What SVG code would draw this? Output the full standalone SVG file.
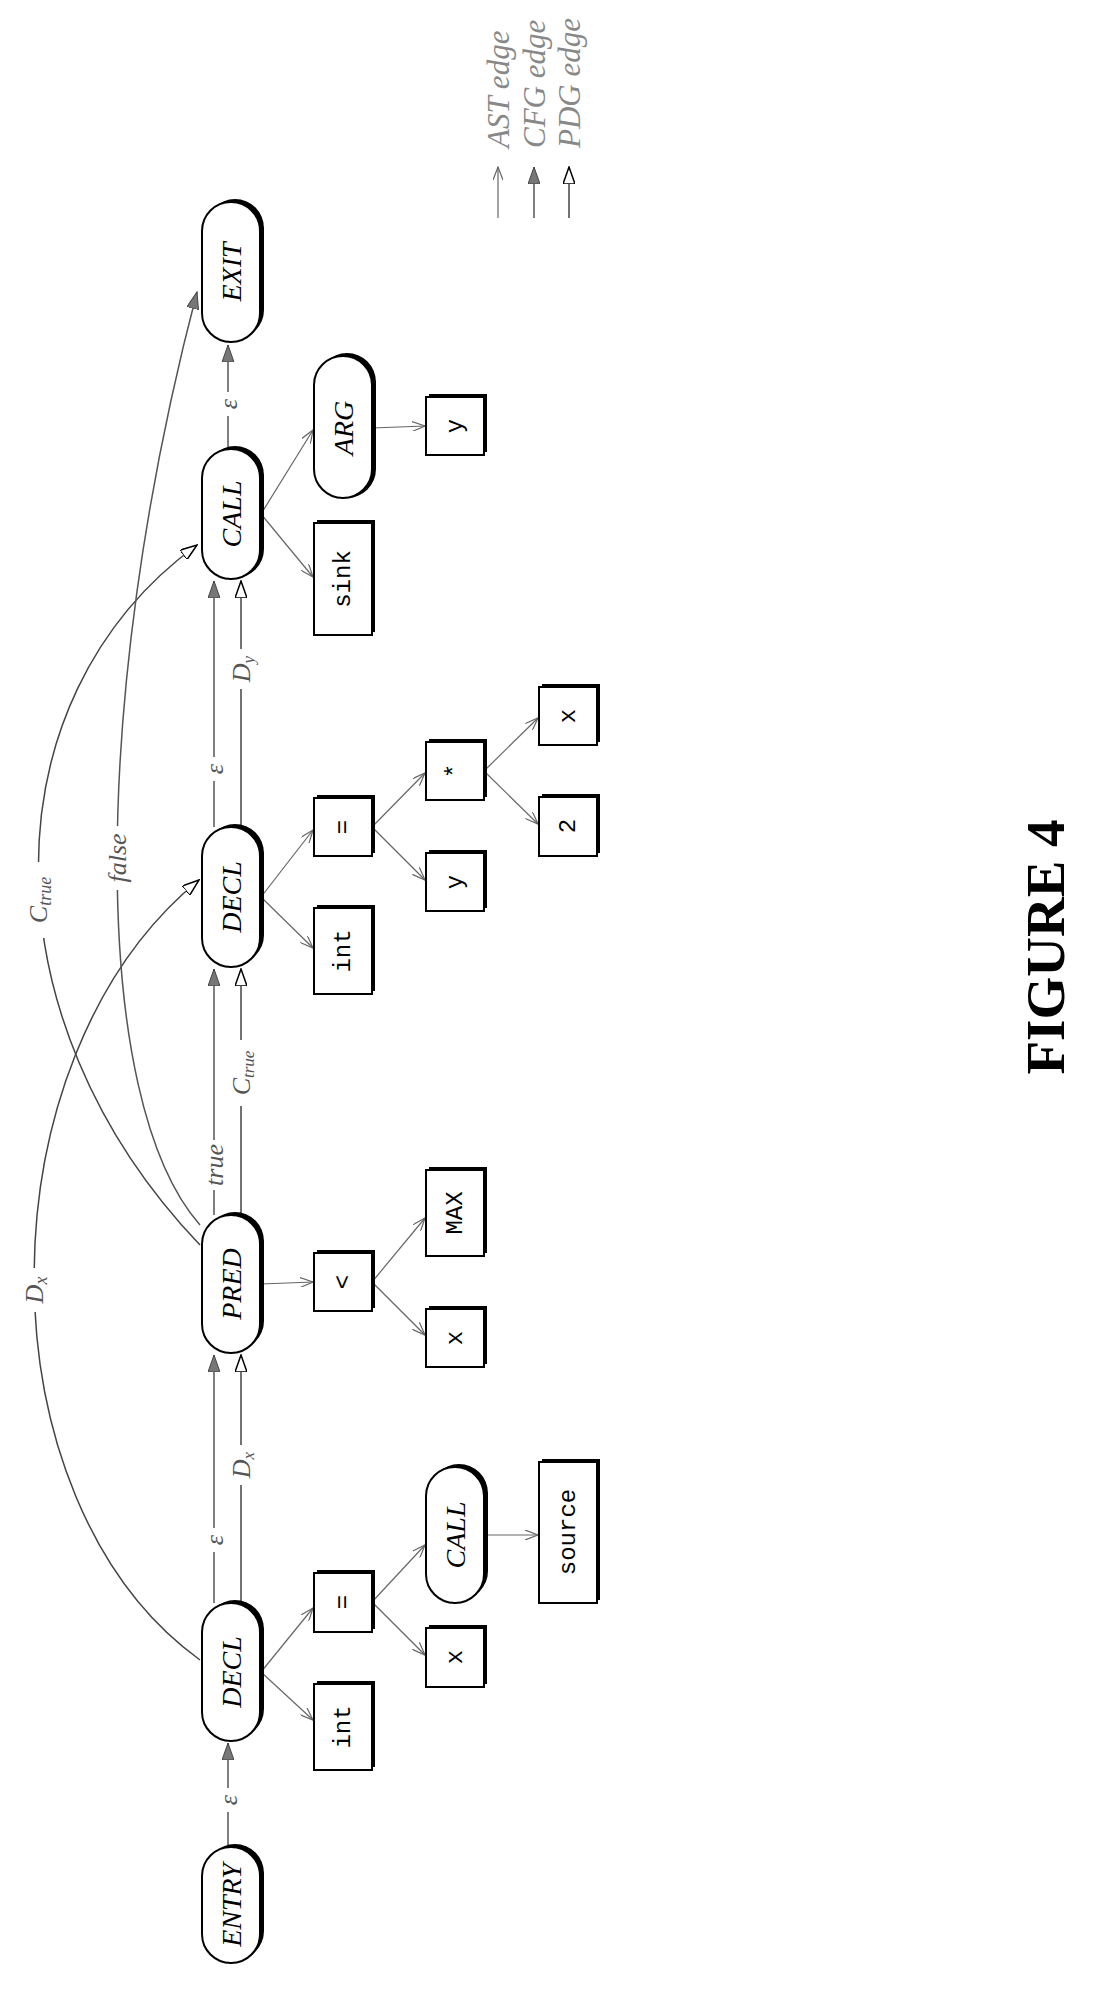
<svg xmlns="http://www.w3.org/2000/svg" width="1093" height="1996" viewBox="0 0 1093 1996">
<style>
.pill{fill:#fff;stroke:#000;stroke-width:2}
.sh{fill:#000}
.box{fill:#fff;stroke:#000;stroke-width:2}
.pt{font-family:"Liberation Serif",serif;font-style:italic;font-size:28px;text-anchor:middle;dominant-baseline:central}
.bt{font-family:"Liberation Mono",monospace;font-size:24px;text-anchor:middle;dominant-baseline:central}
.lab{font-family:"Liberation Serif",serif;font-style:italic;font-size:26px;fill:#555;text-anchor:middle;dominant-baseline:central}
.leg{font-family:"Liberation Serif",serif;font-style:italic;font-size:31px;fill:#888;dominant-baseline:central}
.ast{stroke:#666;stroke-width:1.2;fill:none;marker-end:url(#mA)}
.cfg{stroke:#555;stroke-width:1.5;fill:none;marker-end:url(#mC)}
.pdg{stroke:#444;stroke-width:1.5;fill:none;marker-end:url(#mP)}
.bg{fill:#fff}
</style>
<defs>
<marker id="mA" markerWidth="14" markerHeight="10" refX="13" refY="5" orient="auto" markerUnits="userSpaceOnUse"><path d="M0,0 L13,5 L0,10" fill="none" stroke="#666" stroke-width="1.2"/></marker>
<marker id="mC" markerWidth="18" markerHeight="12" refX="17" refY="6" orient="auto" markerUnits="userSpaceOnUse"><path d="M0,0 L17,6 L0,12 Z" fill="#777" stroke="#444" stroke-width="1"/></marker>
<marker id="mP" markerWidth="18" markerHeight="12" refX="17" refY="6" orient="auto" markerUnits="userSpaceOnUse"><path d="M0,0 L17,6 L0,12 Z" fill="#fff" stroke="#000" stroke-width="1.5"/></marker>
</defs>
<g id="connectors">
<path class="cfg" d="M228,1847 V1743"/>
<path class="cfg" d="M214,1603 V1355"/>
<path class="pdg" d="M241,1603 V1355"/>
<path class="cfg" d="M214,1215 V969"/>
<path class="pdg" d="M241,1215 V969"/>
<path class="cfg" d="M214,827 V581"/>
<path class="pdg" d="M241,827 V581"/>
<path class="cfg" d="M228,449 V345"/>
<path class="pdg" d="M200,1660 C-21,1500 -21,1060 199,880"/>
<path class="pdg" d="M200,1245 C-15,1020 -15,700 197,545"/>
<path class="cfg" d="M200,1225 C90,1100 90,700 197,292"/>
<path class="ast" d="M261,1672 L313,1720"/>
<path class="ast" d="M261,1672 L313,1608"/>
<path class="ast" d="M372,1602 L425,1655"/>
<path class="ast" d="M372,1602 L425,1545"/>
<path class="ast" d="M484,1535 L538,1535"/>
<path class="ast" d="M261,1284 L313,1282"/>
<path class="ast" d="M372,1282 L425,1335"/>
<path class="ast" d="M372,1282 L425,1218"/>
<path class="ast" d="M261,897 L313,830"/>
<path class="ast" d="M261,897 L313,948"/>
<path class="ast" d="M372,827 L425,880"/>
<path class="ast" d="M372,827 L425,773"/>
<path class="ast" d="M484,771 L538,718"/>
<path class="ast" d="M484,771 L538,824"/>
<path class="ast" d="M261,514 L313,430"/>
<path class="ast" d="M261,514 L313,577"/>
<path class="ast" d="M372,428 L425,426"/>
</g>
<g id="labels">
<rect class="bg" x="216" y="1788" width="24" height="24"/><text class="lab" transform="translate(228,1800) rotate(-90)">ε</text>
<rect class="bg" x="202" y="1528" width="24" height="24"/><text class="lab" transform="translate(214,1540) rotate(-90)">ε</text>
<rect class="bg" x="225" y="1445" width="32" height="40"/><text class="lab" transform="translate(241,1465) rotate(-90)">D<tspan font-size="17" dy="7">x</tspan></text>
<rect class="bg" x="200" y="1140" width="28" height="50"/><text class="lab" transform="translate(214,1165) rotate(-90)">true</text>
<rect class="bg" x="225" y="1040" width="32" height="66"/><text class="lab" transform="translate(241,1073) rotate(-90)">C<tspan font-size="17" dy="7">true</tspan></text>
<rect class="bg" x="202" y="757" width="24" height="24"/><text class="lab" transform="translate(214,769) rotate(-90)">ε</text>
<rect class="bg" x="225" y="649" width="32" height="40"/><text class="lab" transform="translate(241,669) rotate(-90)">D<tspan font-size="17" dy="7">y</tspan></text>
<rect class="bg" x="216" y="392" width="24" height="24"/><text class="lab" transform="translate(228,404) rotate(-90)">ε</text>
<rect class="bg" x="18" y="1268" width="34" height="44"/><text class="lab" font-size="30" transform="translate(34,1290) rotate(-90)">D<tspan font-size="18" dy="7">x</tspan></text>
<rect class="bg" x="20" y="862" width="36" height="76"/><text class="lab" font-size="30" transform="translate(38,900) rotate(-90)">C<tspan font-size="18" dy="7">true</tspan></text>
<rect class="bg" x="102" y="826" width="30" height="64"/><text class="lab" transform="translate(117,858) rotate(-90)">false</text>
</g>
<g id="n-entry"><rect class="sh" x="206" y="1844" width="58" height="116" rx="29"/><rect class="pill" x="202" y="1847" width="58" height="116" rx="29"/><text class="pt" transform="translate(231,1905) rotate(-90)">ENTRY</text></g>
<g id="n-decl1"><rect class="sh" x="206" y="1600" width="58" height="138" rx="29"/><rect class="pill" x="202" y="1603" width="58" height="138" rx="29"/><text class="pt" transform="translate(231,1672) rotate(-90)">DECL</text></g>
<g id="n-pred"><rect class="sh" x="206" y="1212" width="58" height="138" rx="29"/><rect class="pill" x="202" y="1215" width="58" height="138" rx="29"/><text class="pt" transform="translate(231,1284) rotate(-90)">PRED</text></g>
<g id="n-decl2"><rect class="sh" x="206" y="824" width="58" height="140" rx="29"/><rect class="pill" x="202" y="827" width="58" height="140" rx="29"/><text class="pt" transform="translate(231,897) rotate(-90)">DECL</text></g>
<g id="n-call2"><rect class="sh" x="206" y="446" width="58" height="132" rx="29"/><rect class="pill" x="202" y="449" width="58" height="130" rx="29"/><text class="pt" transform="translate(231,514) rotate(-90)">CALL</text></g>
<g id="n-exit"><rect class="sh" x="206" y="199" width="58" height="140" rx="29"/><rect class="pill" x="202" y="202" width="58" height="140" rx="29"/><text class="pt" transform="translate(231,272) rotate(-90)">EXIT</text></g>
<g id="n-int1"><rect class="sh" x="317" y="1681" width="58" height="86"/><rect class="box" x="314" y="1684" width="58" height="86"/><text class="bt" transform="translate(343,1727) rotate(-90)">int</text></g>
<g id="n-eq1"><rect class="sh" x="317" y="1570" width="58" height="59"/><rect class="box" x="314" y="1573" width="58" height="59"/><text class="bt" transform="translate(343,1602) rotate(-90)">=</text></g>
<g id="n-x1"><rect class="sh" x="429" y="1625" width="58" height="59"/><rect class="box" x="426" y="1628" width="58" height="59"/><text class="bt" transform="translate(455,1657) rotate(-90)">x</text></g>
<g id="n-call1"><rect class="sh" x="430" y="1464" width="58" height="136" rx="29"/><rect class="pill" x="426" y="1467" width="58" height="136" rx="29"/><text class="pt" transform="translate(455,1535) rotate(-90)">CALL</text></g>
<g id="n-source"><rect class="sh" x="542" y="1459" width="58" height="141"/><rect class="box" x="539" y="1462" width="58" height="141"/><text class="bt" transform="translate(568,1532) rotate(-90)">source</text></g>
<g id="n-lt"><rect class="sh" x="317" y="1250" width="58" height="58"/><rect class="box" x="314" y="1253" width="58" height="58"/><text class="bt" transform="translate(343,1282) rotate(-90)">&lt;</text></g>
<g id="n-x2"><rect class="sh" x="429" y="1306" width="58" height="58"/><rect class="box" x="426" y="1309" width="58" height="58"/><text class="bt" transform="translate(455,1338) rotate(-90)">x</text></g>
<g id="n-max"><rect class="sh" x="429" y="1167" width="58" height="86"/><rect class="box" x="426" y="1170" width="58" height="86"/><text class="bt" transform="translate(455,1213) rotate(-90)">MAX</text></g>
<g id="n-int2"><rect class="sh" x="317" y="905" width="58" height="86"/><rect class="box" x="314" y="908" width="58" height="86"/><text class="bt" transform="translate(343,951) rotate(-90)">int</text></g>
<g id="n-eq2"><rect class="sh" x="317" y="795" width="58" height="58"/><rect class="box" x="314" y="798" width="58" height="58"/><text class="bt" transform="translate(343,827) rotate(-90)">=</text></g>
<g id="n-y1"><rect class="sh" x="429" y="850" width="58" height="58"/><rect class="box" x="426" y="853" width="58" height="58"/><text class="bt" transform="translate(455,882) rotate(-90)">y</text></g>
<g id="n-mul"><rect class="sh" x="429" y="739" width="58" height="58"/><rect class="box" x="426" y="742" width="58" height="58"/><text class="bt" transform="translate(455,771) rotate(-90)">*</text></g>
<g id="n-x3"><rect class="sh" x="542" y="684" width="58" height="58"/><rect class="box" x="539" y="687" width="58" height="58"/><text class="bt" transform="translate(568,716) rotate(-90)">x</text></g>
<g id="n-two"><rect class="sh" x="542" y="794" width="58" height="59"/><rect class="box" x="539" y="797" width="58" height="59"/><text class="bt" transform="translate(568,826) rotate(-90)">2</text></g>
<g id="n-sink"><rect class="sh" x="317" y="520" width="58" height="112"/><rect class="box" x="314" y="523" width="58" height="112"/><text class="bt" transform="translate(343,579) rotate(-90)">sink</text></g>
<g id="n-arg"><rect class="sh" x="318" y="353" width="58" height="145" rx="29"/><rect class="pill" x="314" y="356" width="58" height="142" rx="29"/><text class="pt" transform="translate(343,428) rotate(-90)">ARG</text></g>
<g id="n-y2"><rect class="sh" x="429" y="394" width="58" height="58"/><rect class="box" x="426" y="397" width="58" height="58"/><text class="bt" transform="translate(455,426) rotate(-90)">y</text></g>
<g id="legend">
<path class="ast" d="M498,218 V167"/>
<path class="cfg" d="M534,218 V167"/>
<path class="pdg" d="M569,218 V167"/>
<text class="leg" transform="translate(498,148) rotate(-90)">AST edge</text>
<text class="leg" transform="translate(534,148) rotate(-90)">CFG edge</text>
<text class="leg" transform="translate(569,148) rotate(-90)">PDG edge</text>
</g>
<text font-family="Liberation Serif,serif" font-weight="bold" font-size="55" text-anchor="middle" dominant-baseline="central" transform="translate(1045,947) rotate(-90)">FIGURE 4</text>
</svg>
